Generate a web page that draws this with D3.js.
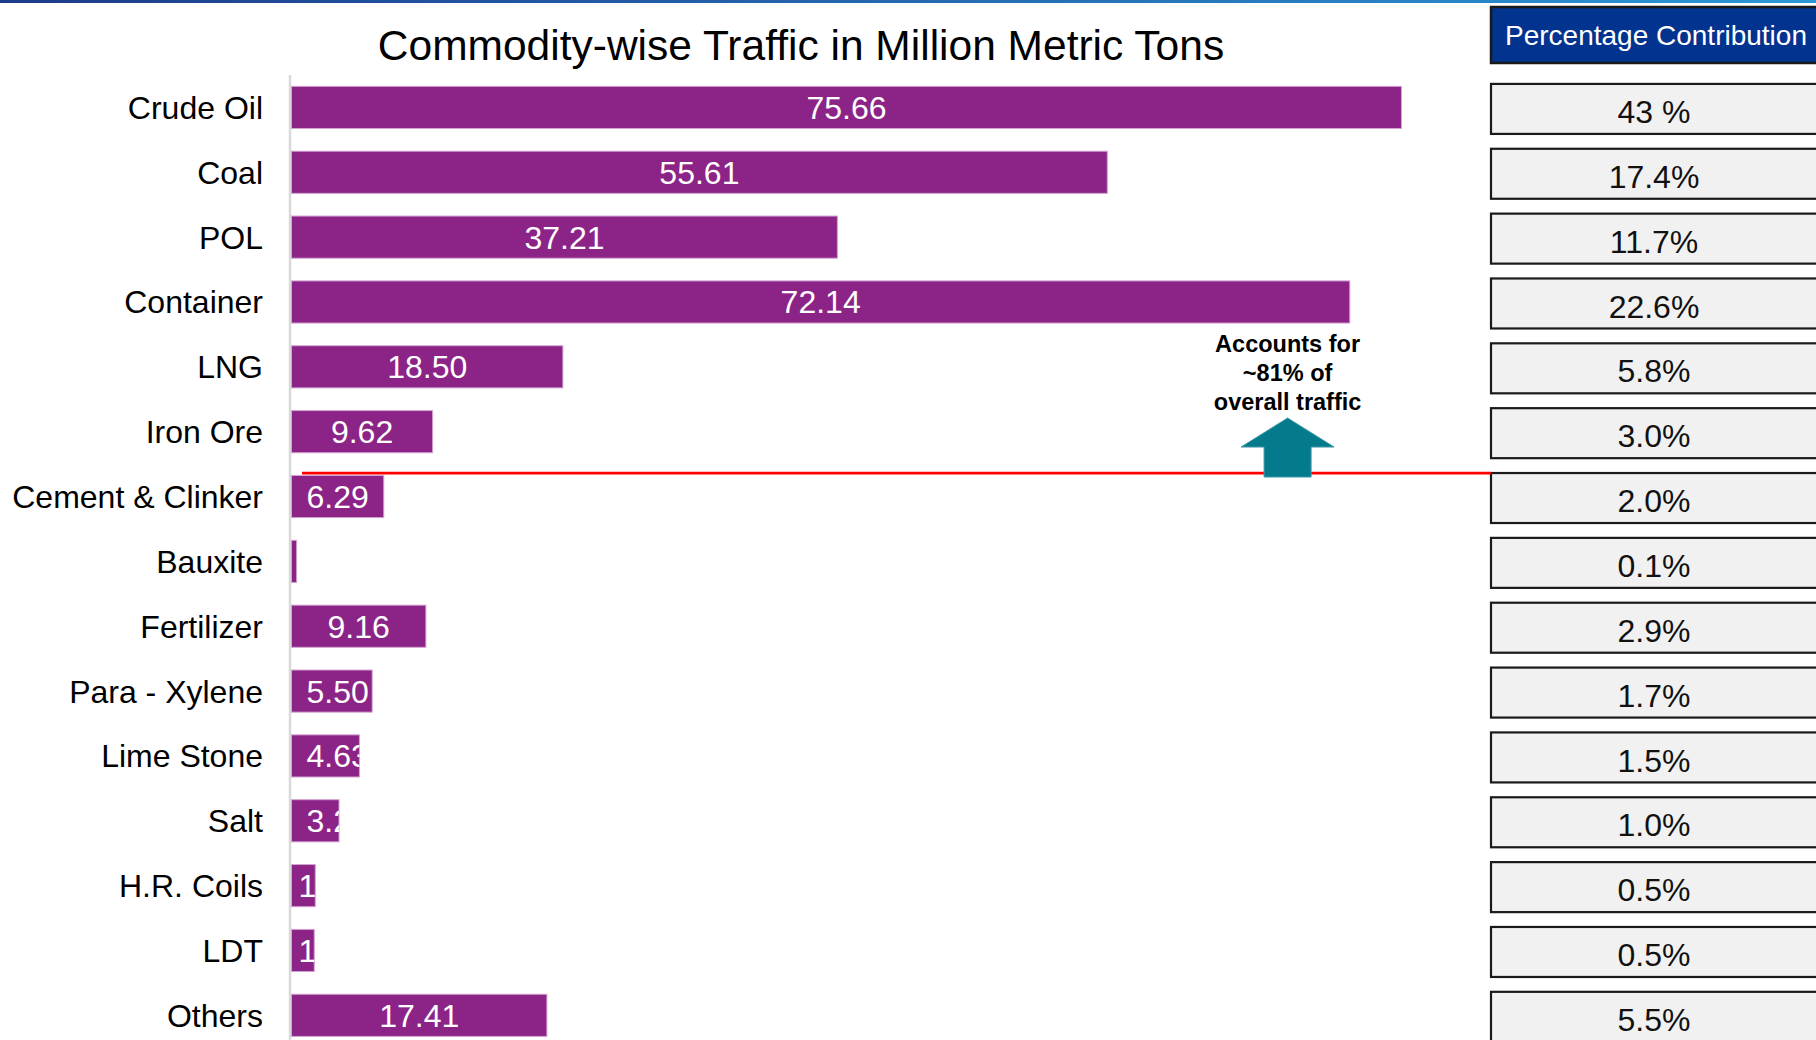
<!DOCTYPE html>
<html>

<head>
    <meta charset="utf-8" />
    <title>Commodity-wise Traffic</title>
    <script src="https://d3js.org/d3.v7.min.js"></script>
    <style>
        body { margin: 0; background: #fff; }
        svg { display: block; font-family: "Liberation Sans", Arial, sans-serif; }
    </style>
</head>

<body>
    <svg width="1816" height="1040"></svg>

    <script>

        // chart data
        var categories = ["Crude Oil", "Coal", "POL", "Container", "LNG", "Iron Ore", "Cement & Clinker",
            "Bauxite", "Fertilizer", "Para - Xylene", "Lime Stone", "Salt", "H.R. Coils", "LDT", "Others"];
        var values = [75.66, 55.61, 37.21, 72.14, 18.50, 9.62, 6.29, 0.35, 9.16, 5.50, 4.63, 3.24, 1.62, 1.55, 17.41];
        var valueLabels = ["75.66", "55.61", "37.21", "72.14", "18.50", "9.62", "6.29", "0.35", "9.16", "5.50",
            "4.63", "3.24", "1.62", "1.55", "17.41"];
        var percentLabels = ["43 %", "17.4%", "11.7%", "22.6%", "5.8%", "3.0%", "2.0%", "0.1%", "2.9%", "1.7%",
            "1.5%", "1.0%", "0.5%", "0.5%", "5.5%"];
        var noteLines = ["Accounts for", "~81% of", "overall traffic"];

        var data = categories.map(function (c, i) {
            return { id: i, name: c, value: values[i], label: valueLabels[i], pct: percentLabels[i] };
        });

        var svg = d3.select("svg");

        // top rule
        var defs = svg.append("defs");
        var grad = defs.append("linearGradient").attr("id", "topgrad");
        grad.append("stop").attr("offset", "0%").attr("stop-color", "#1d3b8b");
        grad.append("stop").attr("offset", "100%").attr("stop-color", "#2c97d4");
        svg.append("rect")
            .attr("x", 0).attr("y", 0)
            .attr("width", 1816).attr("height", 3)
            .attr("fill", "url(#topgrad)");

        // scales
        var x = d3.scaleLinear()
            .domain([0, 80])
            .range([291.5, 291.5 + 14.67 * 80]);

        var y = d3.scaleBand()
            .domain(categories)
            .range([75, 75 + 15 * 64.85])
            .paddingInner(0.35)
            .paddingOuter(0.175);

        var mid = function (d) { return y(d.name) + y.bandwidth() / 2; };

        // title
        svg.append("text")
            .attr("x", 801)
            .attr("y", 60)
            .attr("text-anchor", "middle")
            .style("font-size", "42.5px")
            .text("Commodity-wise Traffic in Million Metric Tons");

        // category axis
        svg.append("line")
            .attr("x1", 290).attr("x2", 290)
            .attr("y1", 75).attr("y2", 1040)
            .attr("stroke", "#d9d9d9")
            .attr("stroke-width", 2.5);

        svg.selectAll(".cat")
            .data(data)
            .enter().append("text")
            .attr("class", "cat")
            .attr("x", 263)
            .attr("y", mid)
            .attr("dy", "0.36em")
            .attr("text-anchor", "end")
            .style("font-size", "32px")
            .attr("fill", "#000")
            .text(function (d) { return d.name; });

        // bars
        svg.selectAll(".clip")
            .data(data)
            .enter().append("clipPath")
            .attr("id", function (d) { return "clip" + d.id; })
            .append("rect")
            .attr("x", x(0))
            .attr("y", function (d) { return y(d.name); })
            .attr("width", function (d) { return x(d.value) - x(0); })
            .attr("height", y.bandwidth());

        svg.selectAll(".bar")
            .data(data)
            .enter().append("rect")
            .attr("class", "bar")
            .attr("x", x(0))
            .attr("y", function (d) { return y(d.name); })
            .attr("width", function (d) { return x(d.value) - x(0); })
            .attr("height", y.bandwidth())
            .attr("fill", "#8c2488")
            .attr("stroke", "#d3a4d1")
            .attr("stroke-width", 1);

        var labels = svg.selectAll(".label")
            .data(data)
            .enter().append("text")
            .attr("class", "label")
            .attr("clip-path", function (d) { return "url(#clip" + d.id + ")"; })
            .attr("y", mid)
            .attr("dy", "0.36em")
            .attr("text-anchor", "middle")
            .attr("fill", "#fff")
            .style("font-size", "32px")
            .text(function (d) { return d.label; });

        // centre in the bar, but keep a small gap from the bar start
        labels.attr("x", function (d) {
            var w = this.getComputedTextLength();
            var c = (x(0) + x(d.value)) / 2;
            var inset = d.value < 2 ? 7 : 15;
            return Math.max(c, x(0) + inset + w / 2);
        });

        // percentage column
        var boxLeft = 1491;
        var boxShift = 1.5;

        svg.append("rect")
            .attr("x", boxLeft).attr("y", 7)
            .attr("width", 400).attr("height", 56)
            .attr("fill", "#02338f")
            .attr("stroke", "#1a1a1a")
            .attr("stroke-width", 2.5);

        svg.append("text")
            .attr("x", boxLeft + 14)
            .attr("y", 45)
            .attr("fill", "#fff")
            .style("font-size", "28px")
            .text("Percentage Contribution");

        svg.selectAll(".pbox")
            .data(data)
            .enter().append("rect")
            .attr("class", "pbox")
            .attr("x", boxLeft)
            .attr("y", function (d) { return mid(d) + boxShift - 25; })
            .attr("width", 400)
            .attr("height", 50)
            .attr("fill", "#f1f1f1")
            .attr("stroke", "#1a1a1a")
            .attr("stroke-width", 2.2);

        svg.selectAll(".pct")
            .data(data)
            .enter().append("text")
            .attr("class", "pct")
            .attr("x", 1654)
            .attr("y", function (d) { return mid(d) + boxShift; })
            .attr("dy", "0.44em")
            .attr("text-anchor", "middle")
            .attr("fill", "#111")
            .style("font-size", "32px")
            .text(function (d) { return d.pct; });

        // 81% divider and arrow
        var redY = mid(data[6]) + boxShift - 25;

        svg.append("line")
            .attr("x1", 302).attr("x2", boxLeft)
            .attr("y1", redY).attr("y2", redY)
            .attr("stroke", "#ff0000")
            .attr("stroke-width", 2.8);

        var ax = x(67.9);
        var arrow = [
            [ax, redY - 55],
            [ax + 46.5, redY - 26],
            [ax + 23.5, redY - 26],
            [ax + 23.5, redY + 4],
            [ax - 23.5, redY + 4],
            [ax - 23.5, redY - 26],
            [ax - 46.5, redY - 26]
        ];
        svg.append("path")
            .attr("d", d3.line()(arrow) + "Z")
            .attr("fill", "#047a8d")
            .attr("stroke", "#3c98a8")
            .attr("stroke-width", 1);

        svg.selectAll(".note")
            .data(noteLines)
            .enter().append("text")
            .attr("class", "note")
            .attr("x", ax)
            .attr("y", function (d, i) { return redY - 121 + i * 29; })
            .attr("text-anchor", "middle")
            .style("font-size", "23.5px")
            .style("font-weight", "bold")
            .text(function (d) { return d; });

    </script>
</body>

</html>
